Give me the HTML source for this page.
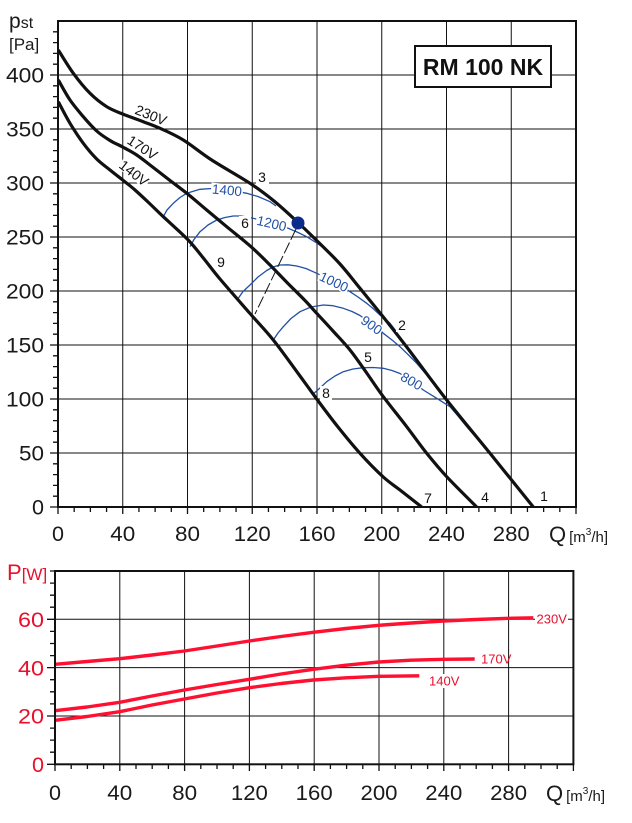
<!DOCTYPE html>
<html><head><meta charset="utf-8"><style>
html,body{margin:0;padding:0;background:#fff;}
svg{display:block;font-family:"Liberation Sans",Arial,sans-serif;}
</style></head><body>
<svg width="632" height="823" viewBox="0 0 632 823" xmlns="http://www.w3.org/2000/svg">
<rect width="632" height="823" fill="#fff"/>
<!-- ===== TOP CHART ===== -->
<g stroke="#111" stroke-width="1" fill="none">
<path d="M122.75 21V507M187.5 21V507M252.25 21V507M317 21V507M381.75 21V507M446.5 21V507M511.25 21V507"/>
<path d="M58 453H576M58 399H576M58 345H576M58 291H576M58 237H576M58 183H576M58 129H576M58 75H576"/>
<path d="M50 507H58M53 496.2H58M53 485.4H58M53 474.6H58M53 463.8H58M50 453H58M53 442.2H58M53 431.4H58M53 420.6H58M53 409.8H58M50 399H58M53 388.2H58M53 377.4H58M53 366.6H58M53 355.8H58M50 345H58M53 334.2H58M53 323.4H58M53 312.6H58M53 301.8H58M50 291H58M53 280.2H58M53 269.4H58M53 258.6H58M53 247.8H58M50 237H58M53 226.2H58M53 215.4H58M53 204.6H58M53 193.8H58M50 183H58M53 172.2H58M53 161.4H58M53 150.6H58M53 139.8H58M50 129H58M53 118.2H58M53 107.4H58M53 96.6H58M53 85.8H58M50 75H58M53 64.2H58M53 53.4H58M53 42.6H58M53 31.8H58" stroke-width="1.3"/>
<path d="M58 507V514M74.19 507V512M90.38 507V512M106.56 507V512M122.75 507V514M138.94 507V512M155.13 507V512M171.31 507V512M187.5 507V514M203.69 507V512M219.88 507V512M236.06 507V512M252.25 507V514M268.44 507V512M284.63 507V512M300.81 507V512M317 507V514M333.19 507V512M349.38 507V512M365.56 507V512M381.75 507V514M397.94 507V512M414.13 507V512M430.31 507V512M446.5 507V514M462.69 507V512M478.88 507V512M495.06 507V512M511.25 507V514M527.44 507V512M543.63 507V512M559.81 507V512M576 507V514" stroke-width="1.3"/>
</g>
<rect x="415" y="46" width="136" height="41" fill="#fff" stroke="#111" stroke-width="2"/>
<text x="483" y="75" font-size="23" font-weight="bold" text-anchor="middle" fill="#111">RM 100 NK</text>

<!-- blue isolines -->
<g stroke="#2150a6" stroke-width="1.3" fill="none" stroke-linejoin="round">
<polyline points="163.3,216.7 167,210 173.3,203.3 180,197.5 186.7,193.3 200,189.3 212,188.5 227,189.5 246.7,193.3 258,196.5 270,201.7 276,206"/>
<polyline points="190,246.7 194,239.5 200,231.7 208,225 216.7,220 225,217.5 233.3,216 241,216 250,217.5 260,220 275,224.5 288.3,228.3 297,232 306.7,236.7 316.7,243 326.7,250 333,256"/>
<polyline points="238.3,298.3 243,291.5 250,285 258,277 266.7,270.5 273,267 280,265 288,264.8 296.7,266 306,268.5 316.7,273.3 330,279.5 340,285 350,291.7 358,297 366.7,303.3 373,308.5 380,315 390,323.3 396,331"/>
<polyline points="273.3,340 278,333 283.3,326.7 291,318.5 300,311.7 311,307 323.3,305 333,305.7 343.3,308.3 352,311.5 360,315.5 372,324 383.3,333.3 392,340 400,346.7 408,354.5 416.7,363.3 426.7,375 436.7,386.7 446,398"/>
<polyline points="312,395 320,388 326.7,381.7 335,376 343.3,371.7 353,369 363.3,367.7 373,367.5 383.3,368.3 392,370.5 400,373.5 412,381 423.3,390 436.7,398.3 450,406.7 458,416 466.7,426.7 480,442 494,459"/>
</g>

<!-- black fan curves (smoothed) -->
<g stroke="#111" stroke-width="3.2" fill="none" stroke-linejoin="round">
<path d="M58.3 50 C60.8 53.9 68 66.1 73.3 73.3 S84.4 87.7 90 93.3 S101.3 103.3 106.7 106.7 S116.6 111.5 122.7 114 S137.1 119.3 143.3 121.7 S153.3 125.3 160 128.3 S174.7 134.7 183.3 140 S200.6 152.8 211.7 160 S239.6 176.5 250 183.3 S266 194.5 274 201 S290.9 215.9 298 222.5 S309.7 233.6 316.7 240.5 S332.8 256 340 264 S352.8 279.5 360 288.3 S375.5 307.2 383.3 317 S396.1 333.2 406.7 347 S432.8 382.3 446.7 400 S475.6 435.5 490 453.3 S526.1 498.1 533.3 507"/>
<path d="M58.3 80 C60.25 83.3 65.8 93.9 70 100 S78.9 111.5 83.3 116.7 S92.3 127 96.7 131 S105.7 137.8 110 140.5 S118.3 144.6 122.7 147 S132.2 152 136.7 155 S144.5 160.8 150 165 S163.7 175.7 170 180.5 S181.6 189.1 187.7 194 S200.2 204.6 206.7 210 S219.3 220.6 226.7 226.7 S243.8 240.3 251 246.7 S264 259 270 265 S281.2 276.6 287 282.5 S300.1 295.4 305 300.5 S312 308.2 316.7 313.3 S327.5 324.9 333 331 S344.4 343 350 350 S361.2 365.2 366.7 373 S376.6 387.8 383.3 396.7 S399.5 417.3 406.7 426.7 S420 445 426.7 453.3 S438.4 467.8 446.7 476.7 S471.7 502 476.7 507"/>
<path d="M58.3 101.7 C60.25 105.3 65.8 116.4 70 123.3 S78.9 137.4 83.3 143.3 S92.3 154.6 96.7 159 S105.7 166.5 110 170 S118.5 176.7 122.7 180 S130.8 186.3 135 190 S143.3 197.6 148 202 S156.7 210.5 163.3 216.7 S181 232.6 187.7 239.5 S197.9 251.4 203.3 258 S212.2 269.8 220 279 S241.1 303.3 250 313.5 S265 329.6 273.3 340 S292.8 366.2 300 376 S310.4 390.5 316.7 399 S330.8 418 338 427 S352.5 445 360 453.3 S376.6 470.9 383.3 477 S393.6 485 400 490 S418.1 504.2 421.7 507"/>
</g>

<line x1="296" y1="229" x2="255" y2="314" stroke="#111" stroke-width="1" stroke-dasharray="12,3"/>
<circle cx="298" cy="223" r="6.5" fill="#0c2c8c"/>

<rect x="58" y="21" width="518" height="486" fill="none" stroke="#111" stroke-width="2"/>

<g font-size="14" fill="#111" text-anchor="middle">
<g transform="translate(151,115) rotate(22)"><text x="0" y="5">230V</text></g>
<g transform="translate(142.5,147.5) rotate(33)"><text x="0" y="5">170V</text></g>
<g transform="translate(134,173) rotate(38)"><rect x="-17" y="-6" width="34" height="12" fill="#fff"/><text x="0" y="5">140V</text></g>
</g>

<g font-size="13.5" fill="#2150a6" text-anchor="middle">
<g transform="translate(227,190) rotate(5)"><rect x="-16" y="-6" width="32" height="12" fill="#fff"/><text x="0" y="4.8">1400</text></g>
<g transform="translate(271.7,223.3) rotate(13)"><rect x="-16" y="-6" width="32" height="12" fill="#fff"/><text x="0" y="4.8">1200</text></g>
<g transform="translate(334,281.7) rotate(25)"><rect x="-16" y="-6" width="32" height="12" fill="#fff"/><text x="0" y="4.8">1000</text></g>
<g transform="translate(371.7,325) rotate(35)"><rect x="-12" y="-6" width="24" height="12" fill="#fff"/><text x="0" y="4.8">900</text></g>
<g transform="translate(411.7,381) rotate(30)"><rect x="-12" y="-6" width="24" height="12" fill="#fff"/><text x="0" y="4.8">800</text></g>
</g>

<g font-size="14" fill="#111" text-anchor="middle">
<rect x="256" y="170" width="13" height="14" fill="#fff"/><text x="262" y="182">3</text>
<rect x="239" y="216" width="12" height="14" fill="#fff"/><text x="245" y="228">6</text>
<text x="221" y="267">9</text>
<rect x="396" y="318" width="12" height="14" fill="#fff"/><text x="402" y="330">2</text>
<text x="368" y="362">5</text>
<rect x="320" y="386" width="12" height="14" fill="#fff"/><text x="326" y="398">8</text>
<text x="428" y="503">7</text>
<text x="485" y="502">4</text>
<text x="544" y="501">1</text>
</g>

<g font-size="21" fill="#1a1a1a" text-anchor="end">
<text x="44" y="514.5" textLength="12" lengthAdjust="spacingAndGlyphs">0</text>
<text x="44" y="460.5" textLength="25" lengthAdjust="spacingAndGlyphs">50</text>
<text x="44" y="406.5" textLength="38" lengthAdjust="spacingAndGlyphs">100</text>
<text x="44" y="352.5" textLength="38" lengthAdjust="spacingAndGlyphs">150</text>
<text x="44" y="298.5" textLength="38" lengthAdjust="spacingAndGlyphs">200</text>
<text x="44" y="244.5" textLength="38" lengthAdjust="spacingAndGlyphs">250</text>
<text x="44" y="190.5" textLength="38" lengthAdjust="spacingAndGlyphs">300</text>
<text x="44" y="136.5" textLength="38" lengthAdjust="spacingAndGlyphs">350</text>
<text x="44" y="82.5" textLength="38" lengthAdjust="spacingAndGlyphs">400</text>
</g>
<g font-size="21" fill="#1a1a1a" text-anchor="middle">
<text x="58" y="541" textLength="12" lengthAdjust="spacingAndGlyphs">0</text>
<text x="122.75" y="541" textLength="25" lengthAdjust="spacingAndGlyphs">40</text>
<text x="187.5" y="541" textLength="25" lengthAdjust="spacingAndGlyphs">80</text>
<text x="252.25" y="541" textLength="37" lengthAdjust="spacingAndGlyphs">120</text>
<text x="317" y="541" textLength="37" lengthAdjust="spacingAndGlyphs">160</text>
<text x="381.75" y="541" textLength="37" lengthAdjust="spacingAndGlyphs">200</text>
<text x="446.5" y="541" textLength="37" lengthAdjust="spacingAndGlyphs">240</text>
<text x="511.25" y="541" textLength="37" lengthAdjust="spacingAndGlyphs">280</text>
</g>
<text x="549" y="542" font-size="22" fill="#1a1a1a">Q<tspan font-size="15" dx="3">[m</tspan><tspan font-size="10" dy="-7">3</tspan><tspan font-size="15" dy="7">/h]</tspan></text>
<text x="9" y="28" font-size="21" fill="#1a1a1a">p<tspan font-size="16">st</tspan></text>
<text x="9" y="50" font-size="17" fill="#1a1a1a">[Pa]</text>

<!-- ===== BOTTOM CHART ===== -->
<g stroke="#111" stroke-width="1" fill="none">
<path d="M119.8 571V764.3M184.6 571V764.3M249.4 571V764.3M314.2 571V764.3M379 571V764.3M443.8 571V764.3M508.6 571V764.3"/>
<path d="M55 716H573.4M55 667.6H573.4M55 619.3H573.4"/>
<path d="M47 764.3H55M50 752.2H55M50 740.1H55M50 728.1H55M47 716H55M50 703.9H55M50 691.8H55M50 679.7H55M47 667.6H55M50 655.6H55M50 643.5H55M50 631.4H55M47 619.3H55M50 607.2H55M50 595.2H55M50 583.1H55M50 571H55" stroke-width="1.3"/>
<path d="M55 764.3V771M71.2 764.3V769M87.4 764.3V769M103.6 764.3V769M119.8 764.3V771M136 764.3V769M152.2 764.3V769M168.4 764.3V769M184.6 764.3V771M200.8 764.3V769M217 764.3V769M233.2 764.3V769M249.4 764.3V771M265.6 764.3V769M281.8 764.3V769M298 764.3V769M314.2 764.3V771M330.4 764.3V769M346.6 764.3V769M362.8 764.3V769M379 764.3V771M395.2 764.3V769M411.4 764.3V769M427.6 764.3V769M443.8 764.3V771M460 764.3V769M476.2 764.3V769M492.4 764.3V769M508.6 764.3V771M524.8 764.3V769M541 764.3V769M557.2 764.3V769M573.4 764.3V771" stroke-width="1.3"/>
</g>
<g stroke="#ff1030" stroke-width="3.4" fill="none" stroke-linejoin="round">
<polyline points="55,664.3 87,661.5 119.7,658.7 152,655 184.3,651 217,646 249.3,641 281,636.5 313.3,632.3 346,628.5 378.7,625.3 411,623 443.3,621 476,619.5 508.3,618.3 533.3,617.8"/>
<polyline points="55,710.7 87,707 119.7,702.3 152,696 184.3,690 217,684.5 249.3,679.3 281,674 313.3,669.3 346,665.2 378.7,662 411,660.2 443.3,659.3 474.7,659"/>
<polyline points="55,720.3 87,716.5 119.7,711.7 152,705 184.3,699 217,693 249.3,687.7 281,683.5 313.3,680 346,677.8 378.7,676.3 419.3,675.8"/>
</g>
<rect x="55" y="571" width="518.4" height="193.3" fill="none" stroke="#111" stroke-width="2"/>
<g font-size="13" fill="#e8102c">
<rect x="535" y="612" width="33" height="14" fill="#fff"/><text x="536.5" y="623.5">230V</text>
<text x="481" y="663.5">170V</text>
<rect x="428" y="674" width="33" height="14" fill="#fff"/><text x="429" y="685.5">140V</text>
</g>
<g font-size="21" fill="#e8102c" text-anchor="end">
<text x="44" y="772" textLength="12" lengthAdjust="spacingAndGlyphs">0</text>
<text x="44" y="723.5" textLength="26" lengthAdjust="spacingAndGlyphs">20</text>
<text x="44" y="675.5" textLength="26" lengthAdjust="spacingAndGlyphs">40</text>
<text x="44" y="627" textLength="26" lengthAdjust="spacingAndGlyphs">60</text>
</g>
<text x="7" y="580" font-size="22" fill="#e8102c">P<tspan font-size="17">[W]</tspan></text>
<g font-size="21" fill="#1a1a1a" text-anchor="middle">
<text x="55" y="800" textLength="12" lengthAdjust="spacingAndGlyphs">0</text>
<text x="119.8" y="800" textLength="25" lengthAdjust="spacingAndGlyphs">40</text>
<text x="184.6" y="800" textLength="25" lengthAdjust="spacingAndGlyphs">80</text>
<text x="249.4" y="800" textLength="37" lengthAdjust="spacingAndGlyphs">120</text>
<text x="314.2" y="800" textLength="37" lengthAdjust="spacingAndGlyphs">160</text>
<text x="379" y="800" textLength="37" lengthAdjust="spacingAndGlyphs">200</text>
<text x="443.8" y="800" textLength="37" lengthAdjust="spacingAndGlyphs">240</text>
<text x="508.6" y="800" textLength="37" lengthAdjust="spacingAndGlyphs">280</text>
</g>
<text x="546" y="801" font-size="22" fill="#1a1a1a">Q<tspan font-size="15" dx="3">[m</tspan><tspan font-size="10" dy="-7">3</tspan><tspan font-size="15" dy="7">/h]</tspan></text>
</svg>
</body></html>
